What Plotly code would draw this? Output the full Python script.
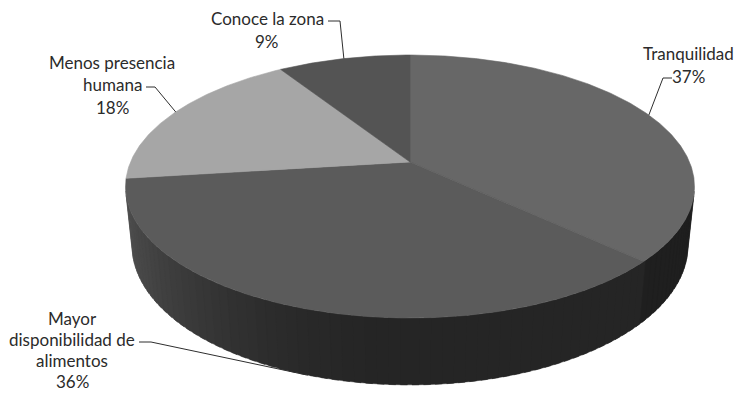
import numpy as np
import plotly.graph_objects as go

# ---- data -------------------------------------------------------------
categories = ["Tranquilidad", "Mayor disponibilidad de alimentos",
              "Menos presencia humana", "Conoce la zona"]
values = [37, 36, 18, 9]
name_lines = [["Tranquilidad"],
              ["Mayor", "disponibilidad de", "alimentos"],
              ["Menos presencia", "humana"],
              ["Conoce la zona"]]

# ---- styling ----------------------------------------------------------
top_colors = [103, 91, 166, 84]          # grey level of each slice top
side_base = [31, 37, 60, 55]             # grey level of each slice wall
W, H = 737, 395

# label block: centre x, y of first line, elbow of leader line
label_pos = [(688, 53), (72, 318), (112, 62), (267, 18)]
leader_start = [(672, 78), (139, 342), (146, 87), (328, 21)]
leader_elbow = [(663, 78), (151, 342), (155, 87), (340, 21)]
line_gaps = [23.5, 21.0, 22.5, 23.0]
FONT = dict(family="Lato", size=17, color="#2b2b2b")

# ---- 3-D projection of a flat disc ------------------------------------
CX, CY = 410.0, 162.0
SN = 0.4541
CS = np.sqrt(1 - SN ** 2)
DIST = 4.78
SCALE = 1336.0
THICK = 0.239


def proj(theta_deg, y=0.0, r=1.0):
    th = np.radians(theta_deg)
    X = r * np.sin(th)
    Z = r * np.cos(th)
    yc = Z * SN + y * CS
    zc = DIST + Z * CS - y * SN
    return CX + SCALE * X / zc, CY - SCALE * yc / zc


def grey(v):
    v = int(round(max(0, min(255, v))))
    return f"rgb({v},{v},{v})"


total = sum(values)
bounds = np.concatenate([[0], np.cumsum(values)]) / total * 360.0

fig = go.Figure()

# outer wall: thin overlapping strips painted far-to-near
strips = []
for i in range(len(values)):
    a0, a1 = bounds[i], bounds[i + 1]
    n = max(2, int(np.ceil((a1 - a0) / 2.0)))
    ts = np.linspace(a0, a1, n + 1)
    for t0, t1 in zip(ts[:-1], ts[1:]):
        tm = 0.5 * (t0 + t1)
        # visible only where the wall faces the viewer
        if np.cos(np.radians(tm)) >= -1.0 / (DIST * CS):
            continue
        d = max(0.0, -np.sin(np.radians(tm)))
        col = grey(side_base[i] + 44 * d ** 2)
        u0, u1 = t0 - 0.6, t1 + 0.6
        p = [proj(u0), proj(u1), proj(u1, -THICK), proj(u0, -THICK)]
        depth = DIST + np.cos(np.radians(tm)) * CS
        strips.append((depth, p, col))

strips.sort(key=lambda s: -s[0])
for _, p, col in strips:
    xs = [q[0] for q in p] + [p[0][0]]
    ys = [q[1] for q in p] + [p[0][1]]
    fig.add_trace(go.Scatter(x=xs, y=ys, mode="lines", fill="toself",
                             fillcolor=col, line=dict(color=col, width=0.4),
                             hoverinfo="skip", showlegend=False))

# top faces
for i in range(len(values)):
    a0, a1 = bounds[i], bounds[i + 1]
    ts = np.linspace(a0, a1, max(3, int(np.ceil((a1 - a0) * 2))))
    pts = [proj(t) for t in ts]
    xs = [CX] + [q[0] for q in pts] + [CX]
    ys = [CY] + [q[1] for q in pts] + [CY]
    col = grey(top_colors[i])
    fig.add_trace(go.Scatter(x=xs, y=ys, mode="lines", fill="toself",
                             fillcolor=col, line=dict(color=col, width=0.6),
                             hoverinfo="skip", showlegend=False,
                             name=categories[i]))

# leader lines, ending on the slice rim at its middle angle
for i in range(len(values)):
    mid = 0.5 * (bounds[i] + bounds[i + 1])
    wall = np.cos(np.radians(mid)) < -0.5
    ex, ey = proj(mid, -THICK if wall else 0.0)
    sx, sy = leader_start[i]
    kx, ky = leader_elbow[i]
    fig.add_trace(go.Scatter(x=[sx, kx, ex], y=[sy, ky, ey], mode="lines",
                             line=dict(color="#2e2e2e", width=1),
                             hoverinfo="skip", showlegend=False))

# labels
annotations = []
for i in range(len(values)):
    lines = name_lines[i] + [f"{values[i]}%"]
    x0, y0 = label_pos[i]
    for k, txt in enumerate(lines):
        annotations.append(dict(x=x0, y=y0 + k * line_gaps[i], text=txt,
                                xref="x", yref="y", showarrow=False,
                                xanchor="center", yanchor="middle",
                                font=FONT))

fig.update_layout(
    width=W, height=H,
    margin=dict(l=0, r=0, t=0, b=0),
    paper_bgcolor="white", plot_bgcolor="white",
    xaxis=dict(range=[0, W], visible=False, fixedrange=True),
    yaxis=dict(range=[H, 0], visible=False, fixedrange=True),
    annotations=annotations,
    showlegend=False,
)

fig.write_html("out.html")
